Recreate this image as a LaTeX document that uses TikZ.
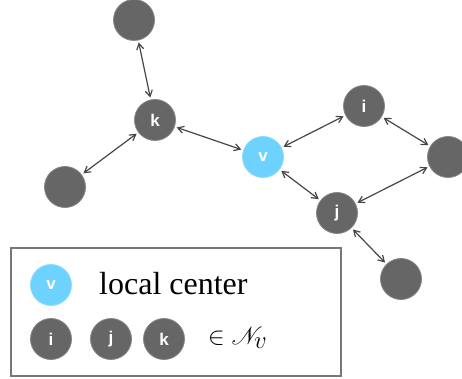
\documentclass[tikz,border=0pt]{standalone}
\usepackage{fontspec}
\usepackage{mathrsfs}
\setmainfont{Liberation Serif}
\newfontfamily\lblfont{Liberation Sans}
\usetikzlibrary{arrows.meta}
\definecolor{nodegray}{RGB}{102,102,102}
\definecolor{vblue}{RGB}{110,210,255}
\definecolor{edgegray}{RGB}{70,70,70}
\definecolor{boxgray}{RGB}{120,120,120}
\tikzset{
  nb/.style={circle, fill=nodegray, draw=nodegray!80!white, line width=0.8pt, minimum size=41pt, inner sep=0pt,
    text=white, font=\lblfont\bfseries\fontsize{17}{17}\selectfont},
  vb/.style={nb, fill=vblue, draw=vblue!80!white},
  conn/.style={{Straight Barb[length=6pt,width=7pt]}-{Straight Barb[length=6pt,width=7pt]}, draw=edgegray, line width=1.2pt, shorten <=2pt, shorten >=2pt},
}
\begin{document}
\begin{tikzpicture}[x=1pt,y=-1pt]
\useasboundingbox (0,0) rectangle (462,379);
\clip (0,0) rectangle (462,379);
\node[nb] (top) at (134,20) {};
\node[nb] (k) at (155,120) {k};
\node[nb] (ll) at (65,187) {};
\node[vb] (v) at (263,157) {v};
\node[nb] (i) at (364,106) {i};
\node[nb] (r) at (448,157) {};
\node[nb] (j) at (337,213) {j};
\node[nb] (br) at (401,279) {};
\draw[conn] (top) -- (k);
\draw[conn] (k) -- (ll);
\draw[conn] (k) -- (v);
\draw[conn] (v) -- (i);
\draw[conn] (i) -- (r);
\draw[conn] (r) -- (j);
\draw[conn] (v) -- (j);
\draw[conn] (j) -- (br);
% legend
\node[draw=boxgray, line width=1.4pt, minimum width=330pt, minimum height=128pt, inner sep=0pt, fill=white] (legend) at (176,312) {};
\node[vb] (lv) at (51,285) {v};
\node[anchor=base west, font=\fontsize{32}{32}\selectfont, inner sep=0pt] (lt) at (99,294) {local center};
\node[nb] (li) at (51,339) {i};
\node[nb] (lj) at (111,339) {j};
\node[nb] (lk) at (164,339) {k};
\node[anchor=west, font=\fontsize{33}{33}\selectfont, inner sep=0pt] (ln) at (208,338) {$\in \mathscr{N}_{v}$};
\end{tikzpicture}
\end{document}
